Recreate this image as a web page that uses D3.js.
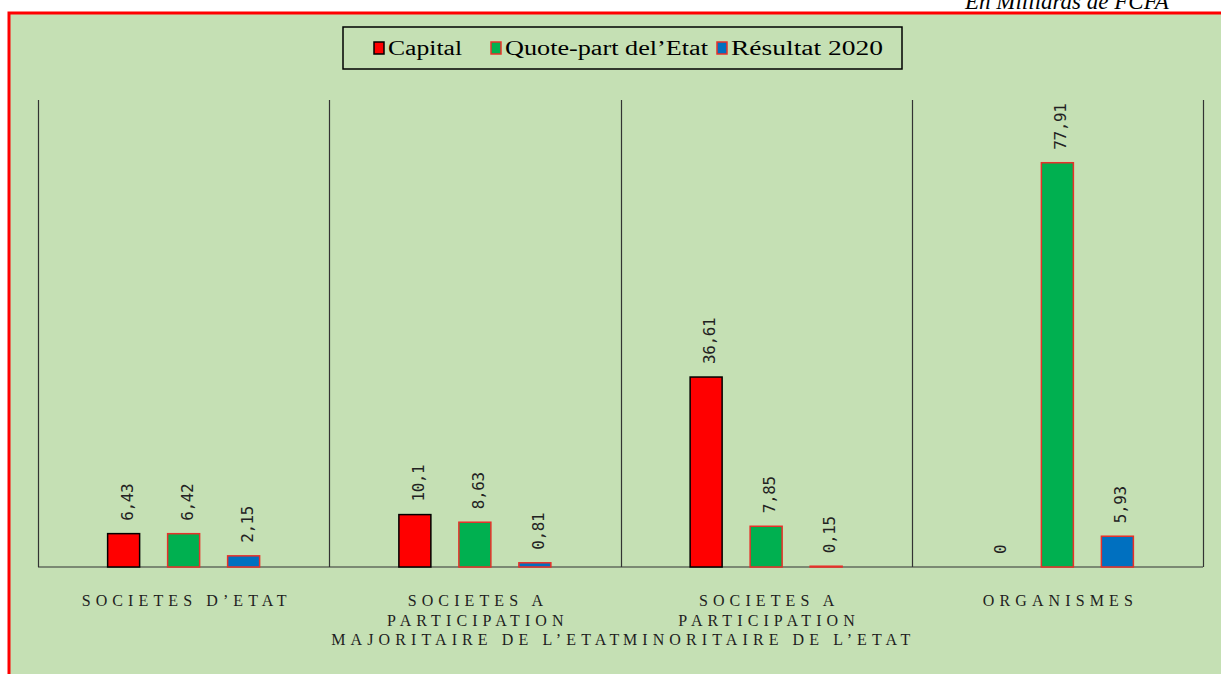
<!DOCTYPE html>
<html>
<head>
<meta charset="utf-8">
<script src="https://cdn.jsdelivr.net/npm/d3@7"></script>
<style>
  body { margin: 0; background: #fff; }
  svg { display: block; }
</style>
</head>
<body>
<div id="chart"></div>
<script>
var categories = [
    ["SOCIETES D’ETAT"],
    ["SOCIETES A", "PARTICIPATION", "MAJORITAIRE DE L’ETAT"],
    ["SOCIETES A", "PARTICIPATION", "MINORITAIRE DE L’ETAT"],
    ["ORGANISMES"]
];
var series = ["Capital", "Quote-part del’Etat", "Résultat 2020"];
var capital = [6.43, 10.1, 36.61, 0];
var quotePart = [6.42, 8.63, 7.85, 77.91];
var resultat = [2.15, 0.81, 0.15, 5.93];
var labels = {
    "Capital": ["6,43", "10,1", "36,61", "0"],
    "Quote-part del’Etat": ["6,42", "8,63", "7,85", "77,91"],
    "Résultat 2020": ["2,15", "0,81", "0,15", "5,93"]
};

var W = 1221, H = 674;
var fills = { "Capital": "#ff0000", "Quote-part del’Etat": "#00b050", "Résultat 2020": "#0070c0" };
var strokes = { "Capital": "#000000", "Quote-part del’Etat": "#e8302a", "Résultat 2020": "#e8302a" };

var catKeys = categories.map(function (d, i) { return "c" + i; });
var values = [capital, quotePart, resultat];

var data = [];
catKeys.forEach(function (k, i) {
    series.forEach(function (s, j) {
        data.push({ cat: k, series: s, value: values[j][i], label: labels[s][i] });
    });
});

var svg = d3.select("#chart").append("svg")
    .attr("width", W)
    .attr("height", H);

// outer frame
svg.append("rect")
    .attr("x", 9).attr("y", 13)
    .attr("width", W + 20).attr("height", H + 20)
    .attr("fill", "#c5e0b4")
    .attr("stroke", "#ff0000")
    .attr("stroke-width", 3);

svg.append("text")
    .attr("x", 965).attr("y", 9)
    .style("font-family", "Liberation Serif")
    .style("font-style", "italic")
    .style("font-size", "23px")
    .attr("fill", "#000")
    .text("En Milliards de FCFA");

var plotLeft = 38, plotRight = 1203, plotTop = 100, plotBase = 567;

var x0 = d3.scaleBand().domain(catKeys).range([plotLeft, plotRight]).padding(0);
var x1 = d3.scalePoint().domain(series).range([-60, 60]);
var y = d3.scaleLinear().domain([0, 90]).range([plotBase, plotTop]);
var barW = 32;

// axes lines
var g = svg.append("g");
g.append("line")
    .attr("x1", plotLeft).attr("x2", plotRight)
    .attr("y1", plotBase).attr("y2", plotBase)
    .attr("stroke", "#333").attr("stroke-width", 1.2);
var seps = [plotLeft].concat(catKeys.map(function (k) { return x0(k) + x0.bandwidth(); }));
g.selectAll("line.sep")
    .data(seps)
    .enter().append("line")
    .attr("class", "sep")
    .attr("x1", function (d) { return Math.round(d) + 0.5; })
    .attr("x2", function (d) { return Math.round(d) + 0.5; })
    .attr("y1", plotTop).attr("y2", plotBase)
    .attr("stroke", "#333").attr("stroke-width", 1.2);

// bars
g.selectAll("rect.bar")
    .data(data)
    .enter().append("rect")
    .attr("class", "bar")
    .attr("x", function (d) { return x0(d.cat) + x0.bandwidth() / 2 + x1(d.series) - barW / 2; })
    .attr("y", function (d) { return y(d.value); })
    .attr("width", barW)
    .attr("height", function (d) { return plotBase - y(d.value); })
    .attr("fill", function (d) { return fills[d.series]; })
    .attr("stroke", function (d) { return d.value > 0 ? strokes[d.series] : "none"; })
    .attr("stroke-width", 1.5);

// value labels
g.selectAll("text.val")
    .data(data)
    .enter().append("text")
    .attr("class", "val")
    .attr("transform", function (d) {
        var cx = x0(d.cat) + x0.bandwidth() / 2 + x1(d.series) + 9;
        var cy = y(d.value) - 13;
        return "translate(" + cx + "," + cy + ")rotate(-90)";
    })
    .style("font-family", "DejaVu Sans Mono")
    .style("font-size", "16px")
    .style("letter-spacing", "-0.4px")
    .attr("fill", "#222")
    .text(function (d) { return d.label; });

// category labels
var catG = g.selectAll("text.cat")
    .data(categories)
    .enter().append("text")
    .attr("class", "cat")
    .attr("text-anchor", "middle")
    .style("font-family", "Liberation Serif")
    .style("font-size", "16px")
    .style("letter-spacing", "5.1px")
    .attr("fill", "#1e1e1e");
catG.selectAll("tspan")
    .data(function (d, i) { return d.map(function (t) { return { t: t, i: i }; }); })
    .enter().append("tspan")
    .attr("x", function (d) { return x0(catKeys[d.i]) + x0.bandwidth() / 2 + 3; })
    .attr("y", function (d, j) { return 606 + j * 19.5; })
    .text(function (d) { return d.t; });

// legend
var lg = svg.append("g");
lg.append("rect")
    .attr("x", 343).attr("y", 27)
    .attr("width", 559).attr("height", 42)
    .attr("fill", "none")
    .attr("stroke", "#000")
    .attr("stroke-width", 1.5);
var legX = [374, 491, 717];
var items = lg.selectAll("g.item")
    .data(series)
    .enter().append("g")
    .attr("class", "item")
    .attr("transform", function (d, i) { return "translate(" + legX[i] + ",0)"; });
items.append("rect")
    .attr("x", 0).attr("y", 42)
    .attr("width", 10).attr("height", 12)
    .attr("fill", function (d) { return fills[d]; })
    .attr("stroke", function (d) { return d === "Capital" ? "#000" : "#e8302a"; })
    .attr("stroke-width", 1.5);
items.append("text")
    .attr("x", 14).attr("y", 55)
    .style("font-family", "Liberation Serif")
    .style("font-size", "20px")
    .attr("textLength", function (d, i) { return [74, 203, 152][i]; })
    .attr("lengthAdjust", "spacingAndGlyphs")
    .attr("fill", "#000")
    .text(function (d) { return d; });
</script>
</body>
</html>
